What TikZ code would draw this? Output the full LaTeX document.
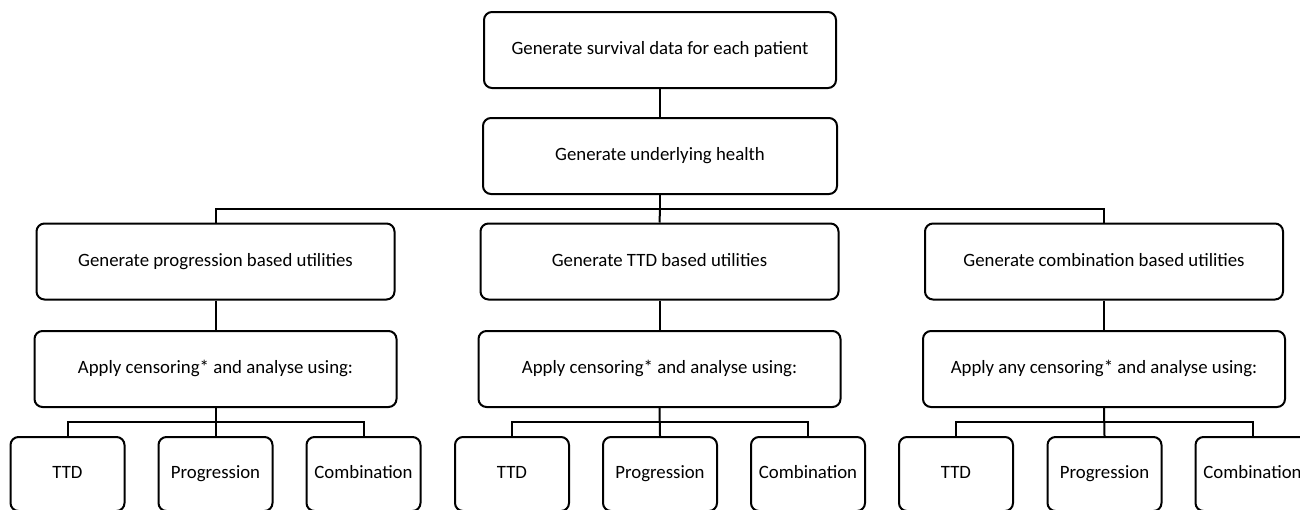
\documentclass[tikz,border=0pt]{standalone}
\usepackage{fontspec}
\setmainfont{Carlito}
\usetikzlibrary{positioning}

\begin{document}
\begin{tikzpicture}[
  x=0.5pt, y=-0.5pt,
  font=\fontsize{9.4}{11}\selectfont,
  box/.style={draw, line width=1pt, rounded corners=4pt, minimum width=179pt, minimum height=38pt,
    inner sep=0pt, text height=6.6pt, text depth=2pt},
  leaf/.style={draw, line width=1pt, rounded corners=4pt, minimum width=57pt, minimum height=37pt,
    inner sep=0pt, text height=6.6pt, text depth=2pt},
  conn/.style={line width=1pt}
]
\useasboundingbox (0,0) rectangle (1300,509);
\clip (0,0) rectangle (1300,509);
% top of the tree
\node[box, minimum width=176pt] (survival) at (660,50) {Generate survival data for each patient};
\node[box, minimum width=177pt] (health) at (660,156) {Generate underlying health};
% utilities
\node[box] (progutil) at (215.5,261.5) {Generate progression based utilities};
\node[box] (ttdutil) at (659.5,261.5) {Generate TTD based utilities};
\node[box] (combutil) at (1104,261.5) {Generate combination based utilities};
% censoring
\node[box, minimum width=181pt] (progcens) at (215.5,369) {Apply censoring* and analyse using:};
\node[box, minimum width=181pt] (ttdcens) at (659.5,369) {Apply censoring* and analyse using:};
\node[box, minimum width=181pt] (combcens) at (1104,369) {Apply any censoring* and analyse using:};
% analyses
\node[leaf] (pttd) at (67.5,474) {TTD};
\node[leaf] (pprog) at (215.5,474) {Progression};
\node[leaf] (pcomb) at (363.5,474) {Combination};
\node[leaf] (tttd) at (512,474) {TTD};
\node[leaf] (tprog) at (660,474) {Progression};
\node[leaf] (tcomb) at (808,474) {Combination};
\node[leaf] (cttd) at (956,474) {TTD};
\node[leaf] (cprog) at (1104.5,474) {Progression};
\node[leaf] (ccomb) at (1252.5,474) {Combination};
% connectors
\coordinate (busa) at (660,209);
\coordinate (busp) at (215.5,422);
\coordinate (bust) at (660,422);
\coordinate (busc) at (1104.5,422);
\draw[conn] (survival) -- (health);
\draw[conn] (health) -- (busa);
\draw[conn] (progutil.north) |- (busa) -| (combutil.north);
\draw[conn] (busa) -- (ttdutil.north);
\draw[conn] (progutil) -- (progcens);
\draw[conn] (ttdutil) -- (ttdcens);
\draw[conn] (combutil) -- (combcens);
\draw[conn] (progcens.south) -- (pprog.north);
\draw[conn] (pttd.north) |- (busp) -| (pcomb.north);
\draw[conn] (ttdcens.south) -- (tprog.north);
\draw[conn] (tttd.north) |- (bust) -| (tcomb.north);
\draw[conn] (combcens.south) -- (cprog.north);
\draw[conn] (cttd.north) |- (busc) -| (ccomb.north);
\end{tikzpicture}
\end{document}
